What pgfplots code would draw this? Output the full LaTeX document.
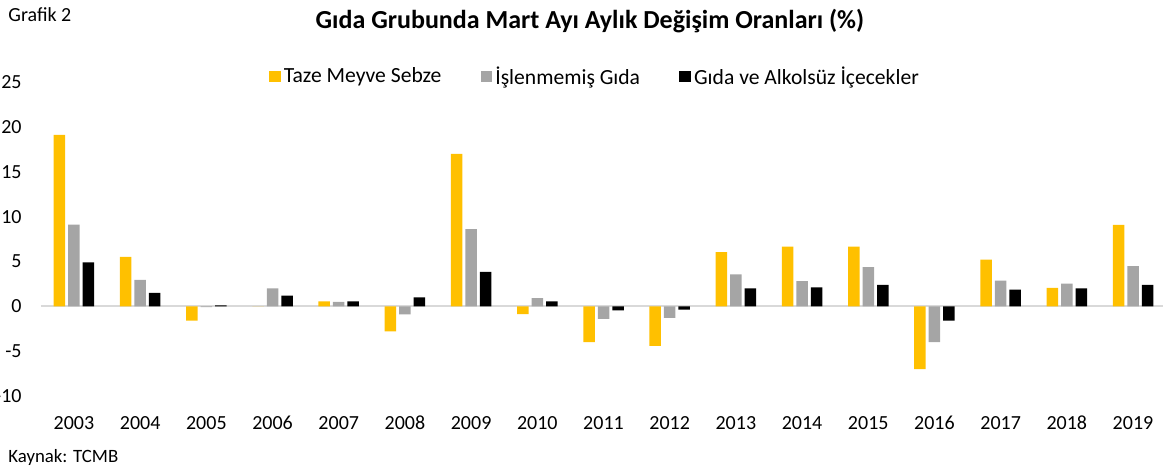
\documentclass[border=0pt]{standalone}
\usepackage{pgfplots}
\pgfplotsset{compat=1.18}
\usepackage{fontspec}
\setmainfont{Carlito}
\definecolor{cyel}{HTML}{FFC000}
\definecolor{cgry}{HTML}{A5A5A5}
\definecolor{czero}{HTML}{D9D9D9}
\begin{document}
\begin{tikzpicture}
\begin{axis}[
  name=ax, at={(0,0)}, anchor=south west,
  scale only axis, width=562.6pt, height=157pt,
  xmin=-0.5, xmax=16.5, ymin=-10, ymax=25,
  axis line style={draw=none},
  ybar=1.5pt, bar width=5.75pt,
  xtick={0,...,16},
  xticklabels={2003,2004,2005,2006,2007,2008,2009,2010,2011,2012,2013,2014,2015,2016,2017,2018,2019},
  ytick={-10,-5,0,5,10,15,20,25},
  yticklabels={-10,-5,0,5,10,15,20,25},
  major tick length=0pt,
  tick label style={font=\fontsize{10}{12}\selectfont, inner sep=0pt},
  xticklabel style={anchor=base, yshift=-16.75pt},
  yticklabel style={anchor=east, xshift=-9.45pt},
  legend columns=3,
  legend style={at={(0.4929,1.016)}, anchor=center, draw=none, fill=none,
    font=\fontsize{10.8}{13}\selectfont, inner sep=0pt,
    nodes={inner sep=1.6pt},
    /tikz/every even column/.append style={column sep=18pt}},
  legend image code/.code={\fill[#1] (0pt,-2.75pt) rectangle (5.8pt,2.75pt);},
]
\draw[czero, line width=1pt] (axis cs:-0.5,0) -- (axis cs:16.5,0);
\addplot[fill=cyel, draw=none] coordinates {(0,19.1) (1,5.5) (2,-1.6) (3,0) (4,0.56) (5,-2.8) (6,17.0) (7,-0.86) (8,-4.0) (9,-4.4) (10,6.05) (11,6.65) (12,6.65) (13,-7.0) (14,5.2) (15,2.05) (16,9.07)};
\addplot[fill=cgry, draw=none] coordinates {(0,9.1) (1,2.95) (2,-0.1) (3,2.0) (4,0.5) (5,-0.9) (6,8.6) (7,0.9) (8,-1.4) (9,-1.3) (10,3.55) (11,2.8) (12,4.37) (13,-4.0) (14,2.87) (15,2.54) (16,4.48)};
\addplot[fill=black, draw=none] coordinates {(0,4.9) (1,1.5) (2,0.1) (3,1.2) (4,0.56) (5,1.0) (6,3.85) (7,0.56) (8,-0.45) (9,-0.37) (10,2.0) (11,2.1) (12,2.4) (13,-1.6) (14,1.87) (15,2.0) (16,2.39)};
\legend{Taze Meyve Sebze, İşlenmemiş Gıda, Gıda ve Alkolsüz İçecekler}
\end{axis}
\node[anchor=west, inner sep=0pt, font=\fontsize{10}{12}\selectfont] at (-16.45pt,190.5pt) {Grafik 2};
\node[anchor=center, inner sep=0pt, font=\fontsize{13}{15}\selectfont\bfseries] at (274.5pt,187.5pt) {Gıda Grubunda Mart Ayı Aylık Değişim Oranları (\%)};
\node[anchor=west, inner sep=0pt, font=\fontsize{9.4}{11}\selectfont] at (-16.45pt,-30.5pt) {Kaynak: TCMB};
\pgfresetboundingbox
\useasboundingbox (-20.45pt,-36pt) rectangle (561.05pt,198pt);
\end{tikzpicture}
\end{document}
